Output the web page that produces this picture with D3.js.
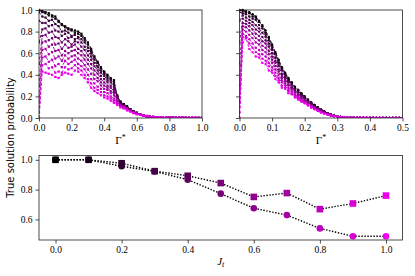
<!doctype html>
<html lang="en">
<head>
<meta charset="UTF-8">
<title>True solution probability</title>
<style>
  body { margin: 0; background: #fff; }
  svg { display: block; }
  .tick line { stroke: #222; stroke-width: 0.8; }
  .frame { fill: none; stroke: #222; stroke-width: 0.8; }
</style>
</head>
<body>
<div id="chart"></div>
<script src="https://cdn.jsdelivr.net/npm/d3@7"></script>
<script>
// Jt values (bottom panel x, and one curve per value in the top panels)
const jtValues = [0.0, 0.1, 0.2, 0.3, 0.4, 0.5, 0.6, 0.7, 0.8, 0.9, 1.0]
const squareProb = [1.0, 1.0, 0.977, 0.924, 0.893, 0.844, 0.751, 0.777, 0.669, 0.707, 0.76]
const circleProb = [1.0, 1.0, 0.957, 0.922, 0.867, 0.773, 0.675, 0.629, 0.54, 0.487, 0.487]

// top left panel, Gamma* in [0, 1]
const gammaLeft = [0, 0.02, 0.04, 0.06, 0.08, 0.10, 0.12, 0.14, 0.16, 0.18, 0.20, 0.22, 0.24, 0.26, 0.28, 0.30, 0.32, 0.34, 0.36, 0.38, 0.40, 0.42, 0.44, 0.46, 0.48, 0.50, 0.52, 0.54, 0.56, 0.58, 0.60, 0.62, 0.64, 0.66, 0.68, 0.70, 0.72, 0.74, 0.76, 0.78, 0.80, 0.82, 0.84, 0.86, 0.88, 0.90, 0.92, 0.94, 0.96, 0.98, 1.00]
const left00 = [1.00, 0.99, 0.98, 0.97, 0.95, 0.94, 0.90, 0.87, 0.85, 0.83, 0.82, 0.81, 0.80, 0.78, 0.74, 0.70, 0.64, 0.57, 0.52, 0.47, 0.43, 0.40, 0.37, 0.35, 0.20, 0.15, 0.13, 0.11, 0.08, 0.06, 0.05, 0.035, 0.025, 0.018, 0.012, 0.008, 0.005, 0.003, 0.002, 0.002, 0.001, 0.001, 0.001, 0, 0, 0, 0, 0, 0, 0, 0]
const left01 = [1.00, 0.98, 0.97, 0.95, 0.94, 0.92, 0.89, 0.86, 0.84, 0.82, 0.81, 0.79, 0.78, 0.76, 0.72, 0.68, 0.62, 0.56, 0.51, 0.46, 0.42, 0.39, 0.36, 0.33, 0.20, 0.15, 0.12, 0.10, 0.08, 0.06, 0.048, 0.035, 0.025, 0.018, 0.012, 0.008, 0.005, 0.004, 0.003, 0.002, 0.002, 0.001, 0.001, 0.001, 0.001, 0, 0, 0, 0, 0, 0]
const left02 = [0.98, 0.94, 0.93, 0.90, 0.91, 0.87, 0.85, 0.80, 0.81, 0.79, 0.76, 0.77, 0.75, 0.73, 0.70, 0.65, 0.60, 0.54, 0.48, 0.44, 0.41, 0.37, 0.35, 0.31, 0.21, 0.15, 0.12, 0.10, 0.08, 0.06, 0.045, 0.035, 0.025, 0.018, 0.013, 0.009, 0.006, 0.004, 0.003, 0.002, 0.002, 0.001, 0.001, 0.001, 0.001, 0, 0, 0, 0, 0, 0]
const left03 = [0.90, 0.88, 0.88, 0.85, 0.86, 0.81, 0.80, 0.76, 0.78, 0.74, 0.75, 0.73, 0.74, 0.70, 0.66, 0.62, 0.57, 0.51, 0.47, 0.42, 0.39, 0.35, 0.33, 0.29, 0.20, 0.14, 0.12, 0.10, 0.075, 0.058, 0.045, 0.034, 0.025, 0.018, 0.013, 0.009, 0.006, 0.005, 0.004, 0.003, 0.002, 0.002, 0.001, 0.001, 0.001, 0, 0, 0, 0, 0, 0]
const left04 = [0.70, 0.82, 0.83, 0.79, 0.80, 0.75, 0.74, 0.70, 0.73, 0.71, 0.68, 0.71, 0.70, 0.66, 0.63, 0.58, 0.54, 0.48, 0.44, 0.39, 0.36, 0.33, 0.30, 0.27, 0.19, 0.13, 0.115, 0.095, 0.075, 0.056, 0.044, 0.033, 0.025, 0.018, 0.013, 0.009, 0.007, 0.005, 0.004, 0.003, 0.002, 0.002, 0.002, 0.001, 0.001, 0.001, 0, 0, 0, 0, 0]
const left05 = [0.50, 0.76, 0.77, 0.72, 0.74, 0.68, 0.69, 0.64, 0.68, 0.65, 0.66, 0.68, 0.64, 0.62, 0.58, 0.54, 0.50, 0.44, 0.41, 0.36, 0.33, 0.30, 0.28, 0.25, 0.18, 0.125, 0.11, 0.09, 0.072, 0.054, 0.043, 0.033, 0.024, 0.018, 0.013, 0.009, 0.007, 0.005, 0.004, 0.003, 0.003, 0.002, 0.002, 0.001, 0.001, 0.001, 0, 0, 0, 0, 0]
const left06 = [0.30, 0.70, 0.71, 0.66, 0.68, 0.62, 0.63, 0.58, 0.62, 0.60, 0.62, 0.63, 0.60, 0.58, 0.54, 0.50, 0.46, 0.40, 0.37, 0.33, 0.30, 0.28, 0.25, 0.23, 0.16, 0.12, 0.105, 0.088, 0.07, 0.052, 0.042, 0.032, 0.024, 0.018, 0.013, 0.01, 0.007, 0.006, 0.005, 0.004, 0.003, 0.003, 0.002, 0.002, 0.001, 0.001, 0.001, 0, 0, 0, 0]
const left07 = [0.15, 0.63, 0.64, 0.59, 0.61, 0.55, 0.57, 0.53, 0.58, 0.55, 0.57, 0.58, 0.55, 0.53, 0.49, 0.45, 0.41, 0.36, 0.34, 0.30, 0.27, 0.26, 0.23, 0.21, 0.15, 0.115, 0.10, 0.085, 0.068, 0.05, 0.04, 0.031, 0.023, 0.018, 0.013, 0.01, 0.007, 0.006, 0.005, 0.004, 0.004, 0.003, 0.003, 0.002, 0.002, 0.001, 0.001, 0.001, 0, 0, 0]
const left08 = [0.05, 0.56, 0.57, 0.52, 0.54, 0.48, 0.50, 0.47, 0.53, 0.50, 0.52, 0.54, 0.50, 0.48, 0.45, 0.40, 0.36, 0.32, 0.29, 0.27, 0.24, 0.23, 0.20, 0.18, 0.14, 0.11, 0.095, 0.08, 0.065, 0.048, 0.038, 0.03, 0.023, 0.017, 0.013, 0.01, 0.008, 0.006, 0.005, 0.005, 0.004, 0.004, 0.003, 0.003, 0.002, 0.002, 0.001, 0.001, 0.001, 0, 0]
const left09 = [0, 0.49, 0.50, 0.46, 0.47, 0.42, 0.43, 0.42, 0.47, 0.45, 0.46, 0.49, 0.46, 0.44, 0.40, 0.36, 0.32, 0.28, 0.26, 0.24, 0.21, 0.20, 0.18, 0.16, 0.13, 0.10, 0.09, 0.075, 0.062, 0.046, 0.036, 0.03, 0.022, 0.017, 0.013, 0.01, 0.008, 0.007, 0.006, 0.005, 0.005, 0.004, 0.004, 0.003, 0.003, 0.002, 0.002, 0.002, 0.001, 0.001, 0.001]
const left10 = [0, 0.43, 0.42, 0.41, 0.40, 0.38, 0.37, 0.40, 0.42, 0.41, 0.40, 0.44, 0.43, 0.40, 0.37, 0.33, 0.28, 0.25, 0.23, 0.21, 0.19, 0.18, 0.16, 0.14, 0.12, 0.10, 0.09, 0.07, 0.06, 0.045, 0.035, 0.03, 0.022, 0.017, 0.013, 0.01, 0.008, 0.007, 0.006, 0.005, 0.005, 0.004, 0.004, 0.003, 0.003, 0.003, 0.002, 0.002, 0.002, 0.001, 0.001]

// top right panel, Gamma* in [0, 0.5]
const gammaRight = [0, 0.01, 0.02, 0.03, 0.04, 0.05, 0.06, 0.07, 0.08, 0.09, 0.10, 0.11, 0.12, 0.13, 0.14, 0.15, 0.16, 0.17, 0.18, 0.19, 0.20, 0.21, 0.22, 0.23, 0.24, 0.25, 0.26, 0.27, 0.28, 0.29, 0.30, 0.31, 0.32, 0.33, 0.34, 0.35, 0.36, 0.37, 0.38, 0.39, 0.40, 0.41, 0.42, 0.43, 0.44, 0.45, 0.46, 0.47, 0.48, 0.49, 0.50]
const right00 = [1.00, 1.00, 0.99, 0.98, 0.96, 0.94, 0.90, 0.86, 0.81, 0.75, 0.68, 0.61, 0.54, 0.47, 0.42, 0.37, 0.33, 0.29, 0.26, 0.23, 0.20, 0.17, 0.145, 0.12, 0.10, 0.08, 0.06, 0.045, 0.033, 0.022, 0.014, 0.009, 0.006, 0.004, 0.003, 0.002, 0.001, 0, 0, 0, 0, 0, 0, 0, 0, 0, 0, 0, 0, 0, 0]
const right01 = [1.00, 0.99, 0.98, 0.97, 0.94, 0.93, 0.89, 0.85, 0.79, 0.74, 0.67, 0.60, 0.53, 0.46, 0.41, 0.36, 0.33, 0.28, 0.26, 0.22, 0.20, 0.17, 0.14, 0.12, 0.10, 0.078, 0.06, 0.044, 0.032, 0.022, 0.014, 0.009, 0.006, 0.004, 0.003, 0.002, 0.001, 0, 0, 0, 0, 0, 0, 0, 0, 0, 0, 0, 0, 0, 0]
const right02 = [0.98, 0.97, 0.96, 0.94, 0.92, 0.91, 0.86, 0.83, 0.77, 0.72, 0.65, 0.59, 0.51, 0.45, 0.40, 0.35, 0.32, 0.27, 0.25, 0.21, 0.19, 0.16, 0.14, 0.115, 0.095, 0.076, 0.058, 0.043, 0.032, 0.021, 0.014, 0.009, 0.006, 0.004, 0.003, 0.002, 0.002, 0.001, 0.001, 0, 0, 0, 0, 0, 0, 0, 0, 0, 0, 0, 0]
const right03 = [0.90, 0.95, 0.93, 0.91, 0.89, 0.86, 0.83, 0.79, 0.75, 0.69, 0.63, 0.56, 0.49, 0.44, 0.38, 0.34, 0.31, 0.27, 0.24, 0.21, 0.19, 0.155, 0.135, 0.11, 0.093, 0.074, 0.056, 0.042, 0.031, 0.021, 0.014, 0.009, 0.006, 0.005, 0.003, 0.002, 0.002, 0.001, 0.001, 0.001, 0, 0, 0, 0, 0, 0, 0, 0, 0, 0, 0]
const right04 = [0.70, 0.92, 0.90, 0.88, 0.86, 0.82, 0.80, 0.75, 0.72, 0.66, 0.60, 0.53, 0.48, 0.41, 0.37, 0.33, 0.29, 0.26, 0.235, 0.20, 0.18, 0.15, 0.13, 0.105, 0.09, 0.072, 0.055, 0.041, 0.03, 0.021, 0.014, 0.009, 0.006, 0.005, 0.004, 0.003, 0.002, 0.002, 0.001, 0.001, 0.001, 0, 0, 0, 0, 0, 0, 0, 0, 0, 0]
const right05 = [0.50, 0.88, 0.87, 0.85, 0.82, 0.78, 0.76, 0.71, 0.69, 0.62, 0.57, 0.51, 0.45, 0.39, 0.36, 0.31, 0.28, 0.25, 0.22, 0.195, 0.17, 0.145, 0.12, 0.10, 0.085, 0.068, 0.052, 0.039, 0.029, 0.02, 0.013, 0.009, 0.007, 0.005, 0.004, 0.003, 0.002, 0.002, 0.002, 0.001, 0.001, 0.001, 0, 0, 0, 0, 0, 0, 0, 0, 0]
const right06 = [0.30, 0.85, 0.84, 0.81, 0.78, 0.74, 0.72, 0.67, 0.65, 0.59, 0.54, 0.48, 0.43, 0.37, 0.34, 0.30, 0.27, 0.24, 0.21, 0.185, 0.165, 0.14, 0.118, 0.097, 0.082, 0.065, 0.05, 0.038, 0.028, 0.019, 0.013, 0.009, 0.007, 0.005, 0.004, 0.003, 0.003, 0.002, 0.002, 0.001, 0.001, 0.001, 0.001, 0, 0, 0, 0, 0, 0, 0, 0]
const right07 = [0.15, 0.82, 0.80, 0.77, 0.74, 0.70, 0.68, 0.63, 0.61, 0.55, 0.51, 0.45, 0.40, 0.35, 0.32, 0.28, 0.26, 0.22, 0.20, 0.175, 0.155, 0.13, 0.11, 0.09, 0.077, 0.06, 0.047, 0.036, 0.026, 0.018, 0.013, 0.009, 0.007, 0.005, 0.004, 0.003, 0.003, 0.002, 0.002, 0.002, 0.001, 0.001, 0.001, 0.001, 0, 0, 0, 0, 0, 0, 0]
const right08 = [0.05, 0.78, 0.76, 0.73, 0.69, 0.65, 0.63, 0.59, 0.57, 0.51, 0.47, 0.42, 0.37, 0.33, 0.30, 0.26, 0.24, 0.21, 0.19, 0.165, 0.145, 0.125, 0.104, 0.086, 0.071, 0.056, 0.044, 0.033, 0.024, 0.017, 0.012, 0.009, 0.007, 0.006, 0.005, 0.004, 0.003, 0.003, 0.002, 0.002, 0.002, 0.001, 0.001, 0.001, 0.001, 0, 0, 0, 0, 0, 0]
const right09 = [0, 0.75, 0.74, 0.69, 0.65, 0.61, 0.59, 0.55, 0.53, 0.48, 0.44, 0.39, 0.35, 0.30, 0.28, 0.25, 0.23, 0.20, 0.18, 0.155, 0.14, 0.12, 0.098, 0.083, 0.068, 0.053, 0.042, 0.032, 0.023, 0.017, 0.012, 0.009, 0.007, 0.006, 0.005, 0.004, 0.004, 0.003, 0.003, 0.002, 0.002, 0.002, 0.001, 0.001, 0.001, 0.001, 0, 0, 0, 0, 0]
const right10 = [0, 0.70, 0.74, 0.64, 0.61, 0.57, 0.56, 0.51, 0.50, 0.44, 0.42, 0.36, 0.33, 0.28, 0.27, 0.23, 0.22, 0.19, 0.17, 0.15, 0.135, 0.115, 0.095, 0.08, 0.065, 0.05, 0.04, 0.03, 0.022, 0.016, 0.012, 0.009, 0.007, 0.006, 0.005, 0.004, 0.004, 0.003, 0.003, 0.002, 0.002, 0.002, 0.002, 0.001, 0.001, 0.001, 0.001, 0.001, 0.001, 0.001, 0.001]

const leftCurves = [left00, left01, left02, left03, left04, left05, left06, left07, left08, left09, left10]
const rightCurves = [right00, right01, right02, right03, right04, right05, right06, right07, right08, right09, right10]

const topTicksLeft = [0, 0.2, 0.4, 0.6, 0.8, 1.0]
const topTicksRight = [0, 0.1, 0.2, 0.3, 0.4, 0.5]
const probTicks = [0, 0.2, 0.4, 0.6, 0.8, 1.0]
const bottomYTicks = [0.6, 0.8, 1.0]
const bottomXTicks = [0, 0.2, 0.4, 0.6, 0.8, 1.0]

const W = 415, H = 276
const SERIF = '"Liberation Serif", "DejaVu Serif", serif'
const color = d3.scaleLinear().domain([0, 1]).range(['#000000', '#ee00ee']).interpolate(d3.interpolateRgb)
const fmt = d3.format('.1f')

const svg = d3.select('#chart').append('svg').attr('width', W).attr('height', H)

function panel (x0, x1, y0, y1, xDomain, yDomain, id) {
  const x = d3.scaleLinear().domain(xDomain).range([x0, x1])
  const y = d3.scaleLinear().domain(yDomain).range([y1, y0])
  svg.append('clipPath').attr('id', id).append('rect')
    .attr('x', x0).attr('y', y0 - 2).attr('width', x1 - x0).attr('height', y1 - y0 + 2)
  return {x, y}
}

function axes (p, xTicks, yTicks, showYLabels) {
  const gx = svg.append('g').attr('transform', `translate(0,${p.y.range()[0]})`)
    .call(d3.axisBottom(p.x).tickValues(xTicks).tickFormat(fmt).tickSize(3.5).tickPadding(3).tickSizeOuter(0))
  const gy = svg.append('g').attr('transform', `translate(${p.x.range()[0]},0)`)
    .call(d3.axisLeft(p.y).tickValues(yTicks).tickFormat(showYLabels ? fmt : '').tickSize(3.5).tickPadding(3).tickSizeOuter(0))
  ;[gx, gy].forEach(g => {
    g.select('.domain').remove()
    g.attr('font-family', SERIF).attr('font-size', 9.5)
    g.selectAll('.tick text').attr('font-family', SERIF).attr('fill', '#000')
  })
  svg.append('rect').attr('class', 'frame')
    .attr('x', p.x.range()[0]).attr('y', p.y.range()[1])
    .attr('width', p.x.range()[1] - p.x.range()[0])
    .attr('height', p.y.range()[0] - p.y.range()[1])
}

function curves (p, gammas, data, id, shape) {
  const g = svg.append('g').attr('clip-path', `url(#${id})`)
  const line = d3.line().x(d => p.x(d[0])).y(d => p.y(d[1]))
  data.forEach((vals, k) => {
    const pts = d3.zip(gammas, vals)
    const c = color(jtValues[k])
    g.append('path').attr('d', line(pts))
      .attr('fill', 'none').attr('stroke', c).attr('stroke-width', 0.9)
      .attr('stroke-dasharray', '3,1.6')
    if (shape === 'square') {
      g.selectAll(null).data(pts).enter().append('rect')
        .attr('x', d => p.x(d[0]) - 1.1).attr('y', d => p.y(d[1]) - 1.1)
        .attr('width', 2.2).attr('height', 2.2).attr('fill', c)
    } else {
      g.selectAll(null).data(pts).enter().append('circle')
        .attr('cx', d => p.x(d[0])).attr('cy', d => p.y(d[1]))
        .attr('r', 1.2).attr('fill', c)
    }
  })
}

// top left
const pL = panel(39, 202, 10, 118, [0, 1], [0, 1], 'clipL')
curves(pL, gammaLeft, leftCurves, 'clipL', 'square')
axes(pL, topTicksLeft, probTicks, true)

// top right
const pR = panel(239.5, 402.5, 10, 118, [0, 0.5], [0, 1], 'clipR')
curves(pR, gammaRight, rightCurves, 'clipR', 'circle')
axes(pR, topTicksRight, probTicks, false)

// bottom
const pB = panel(39, 402.5, 155.5, 240, [-0.05, 1.05], [0.462, 1.029], 'clipB')
const dotted = d3.line().x(d => pB.x(d[0])).y(d => pB.y(d[1]))
const sqPts = d3.zip(jtValues, squareProb)
const ciPts = d3.zip(jtValues, circleProb)
;[sqPts, ciPts].forEach(pts => {
  svg.append('path').attr('d', dotted(pts))
    .attr('fill', 'none').attr('stroke', '#000').attr('stroke-width', 1.4)
    .attr('stroke-dasharray', '1.4,1.6')
})
svg.selectAll('circle.jt').data(ciPts).enter().append('circle')
  .attr('class', 'jt')
  .attr('cx', d => pB.x(d[0])).attr('cy', d => pB.y(d[1]))
  .attr('r', 3.3).attr('fill', d => color(d[0]))
svg.selectAll('rect.jt').data(sqPts).enter().append('rect')
  .attr('class', 'jt')
  .attr('x', d => pB.x(d[0]) - 3.3).attr('y', d => pB.y(d[1]) - 3.3)
  .attr('width', 6.6).attr('height', 6.6).attr('fill', d => color(d[0]))
axes(pB, bottomXTicks, bottomYTicks, true)

// axis labels
function gammaLabel (cx) {
  const t = svg.append('text').attr('x', cx).attr('y', 143.5)
    .attr('text-anchor', 'middle').attr('font-family', SERIF).attr('font-size', 11)
  t.append('tspan').text('Γ')
  t.append('tspan').attr('dy', -4).attr('font-size', 8).text('*')
}
gammaLabel(pL.x(0.5))
gammaLabel(pR.x(0.25))

const jt = svg.append('text').attr('x', pB.x(0.5)).attr('y', 265)
  .attr('text-anchor', 'middle').attr('font-family', SERIF).attr('font-size', 11)
jt.append('tspan').attr('font-style', 'italic').text('J')
jt.append('tspan').attr('dy', 2).attr('font-style', 'italic').attr('font-size', 8).text('t')

svg.append('text')
  .attr('transform', 'translate(14,137.5) rotate(-90)')
  .attr('text-anchor', 'middle')
  .attr('font-family', '"DejaVu Sans", sans-serif')
  .attr('font-size', 10)
  .text('True solution probability')
</script>
</body>
</html>
